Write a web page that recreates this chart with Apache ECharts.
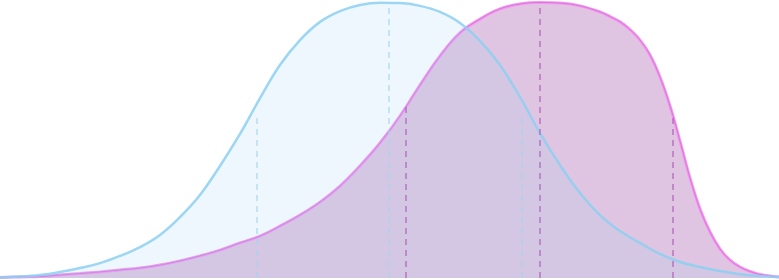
<!DOCTYPE html>
<html>
<head>
<meta charset="utf-8">
<script src="https://cdn.jsdelivr.net/npm/echarts@6/dist/echarts.min.js"></script>
<style>
html,body{margin:0;padding:0;background:#fff;}
#chart{width:779px;height:280px;}
</style>
</head>
<body>
<div id="chart"></div>
<script>
// Blue distribution (x position on 0-100 scale, density normalised to peak)
const blueX = [0,2.57,5.13,7.70,10.27,12.84,15.40,17.97,20.54,23.11,25.67,28.24,30.81,33.38,35.94,38.51,41.08,43.65,46.21,48.78,51.35,53.92,56.48,59.05,61.62,64.18,66.75,69.32,71.89,74.45,77.02,79.59,82.16,84.72,87.29,89.86,92.43,94.99,97.56,100];
const blueY = [0.002,0.005,0.011,0.022,0.036,0.054,0.080,0.112,0.156,0.221,0.301,0.406,0.522,0.652,0.772,0.862,0.928,0.967,0.989,0.997,0.996,0.986,0.964,0.924,0.859,0.772,0.656,0.525,0.409,0.308,0.228,0.170,0.127,0.087,0.058,0.040,0.025,0.014,0.007,0.004];

// Pink distribution
const pinkX = [0,2.57,5.13,7.70,10.27,12.84,15.40,17.97,20.54,23.11,25.67,28.24,30.81,33.38,35.94,38.51,41.08,43.65,46.21,48.78,51.35,53.92,56.48,59.05,61.62,64.18,66.75,69.32,71.89,74.45,77.02,78.31,79.59,80.87,82.16,83.44,84.72,86.01,87.29,88.58,89.86,91.14,92.43,93.71,94.99,96.28,97.56,100];
const pinkY = [0.002,0.004,0.005,0.011,0.016,0.022,0.029,0.036,0.047,0.062,0.080,0.101,0.127,0.152,0.188,0.228,0.275,0.333,0.406,0.489,0.587,0.699,0.804,0.888,0.938,0.975,0.993,0.998,0.996,0.986,0.964,0.947,0.928,0.900,0.862,0.808,0.728,0.623,0.496,0.362,0.250,0.167,0.105,0.065,0.040,0.024,0.013,0.004];

// Quartile markers (Q1, median, Q3) and their heights
const blueQuartX = [32.99, 49.94, 67.01];
const blueQuartH = [0.598, 0.998, 0.598];
const pinkQuartX = [52.12, 69.32, 86.39];
const pinkQuartH = [0.620, 0.993, 0.583];

function pairs(xs, ys){ return xs.map((x,i)=>[x, ys[i]]); }
function quartLines(xs, hs){ return xs.map((x,i)=>[{coord:[x,0]},{coord:[x,hs[i]]}]); }

const chart = echarts.init(document.getElementById('chart'), null, {renderer:'canvas'});
chart.setOption({
  animation:false,
  grid:{left:0,right:0,top:2,bottom:2},
  xAxis:{type:'value',min:0,max:100,show:false},
  yAxis:{type:'value',min:0,max:1,show:false},
  series:[
    {
      name:'pink', type:'line', data:pairs(pinkX,pinkY), smooth:0.4, symbol:'none', z:2,
      lineStyle:{color:'#f597f3',width:3},
      areaStyle:{color:'rgba(165,92,170,0.5)'},
      markLine:{silent:true,symbol:'none',label:{show:false},
        lineStyle:{color:'rgba(175,95,185,0.6)',type:[6,5],width:2},
        data:quartLines(pinkQuartX,pinkQuartH)}
    },
    {
      name:'pinkEdge', type:'line', data:pairs(pinkX,pinkY), smooth:0.4, symbol:'none', z:2,
      lineStyle:{color:'rgba(190,90,190,0.75)',width:0.7}
    },
    {
      name:'blue', type:'line', data:pairs(blueX,blueY), smooth:0.4, symbol:'none', z:3,
      lineStyle:{color:'rgba(140,208,242,0.85)',width:2.5},
      areaStyle:{color:'rgba(160,212,246,0.25)'},
      markLine:{silent:true,symbol:'none',label:{show:false},
        lineStyle:{color:'rgba(165,212,240,0.55)',type:[6,5],width:2},
        data:quartLines(blueQuartX,blueQuartH)}
    }
  ]
});
</script>
</body>
</html>
